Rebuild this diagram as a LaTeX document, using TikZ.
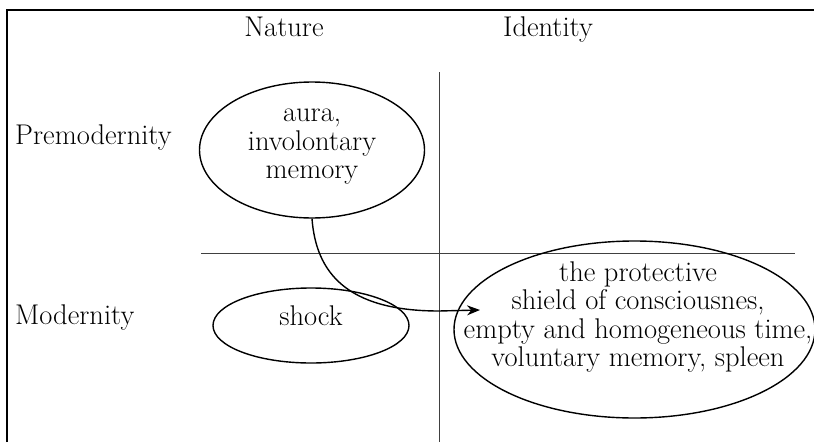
\documentclass[tikz,border=0pt]{standalone}
\usepackage{tikz}
\usetikzlibrary{arrows.meta,shapes.geometric,positioning}
\tikzset{cell/.style={ellipse,draw=black,line width=1.4pt,inner sep=0pt},
		txt/.style={align=center,inner sep=0pt},
		axis/.style={draw=black!75,line width=0.6pt},
		post/.style={-{Stealth[length=13pt,width=10pt]},line width=1.4pt}}

\begin{document}
\begin{tikzpicture}[x=1pt,y=-1pt,font=\fontsize{28.5}{28.5}\selectfont]
		\useasboundingbox (0,0) rectangle (814,442);
		\draw[line width=1.2pt] (7,442) -- (7,10) -- (814,10);
		\draw[axis] (439,72) -- (439,442);
		\draw[axis] (201,253) -- (795,253);

		\node[anchor=base,inner sep=0pt] (nature) at (284,36) {Nature};
		\node[anchor=base,inner sep=0pt] (identity) at (548,36) {Identity};
		\node[anchor=base west,inner sep=0pt] (premod) at (15,144) {Premodernity};
		\node[anchor=base west,inner sep=0pt] (mod) at (15,324) {Modernity};

		\node[cell,minimum width=225pt,minimum height=136pt] (aura) at (312,150) {};
		\node[txt] (auratext) at (312,147) {aura,\\involontary\\memory};
		\node[cell,minimum width=196pt,minimum height=75pt] (shock) at (311,325.5) {};
		\node[txt] (shocktext) at (311,316) {shock};
		\node[cell,minimum width=361pt,minimum height=177pt] (shield) at (634.5,329.5) {};
		\node[txt] (shieldtext) at (638,317) {the protective\\shield of consciousnes,\\empty and homogeneous time,\\voluntary memory, spleen};

		\coordinate (tip) at (480,310);
		\draw[post] (aura.south) .. controls (316,272) and (346,311) .. (439,311) -- (tip);
\end{tikzpicture}
\end{document}
